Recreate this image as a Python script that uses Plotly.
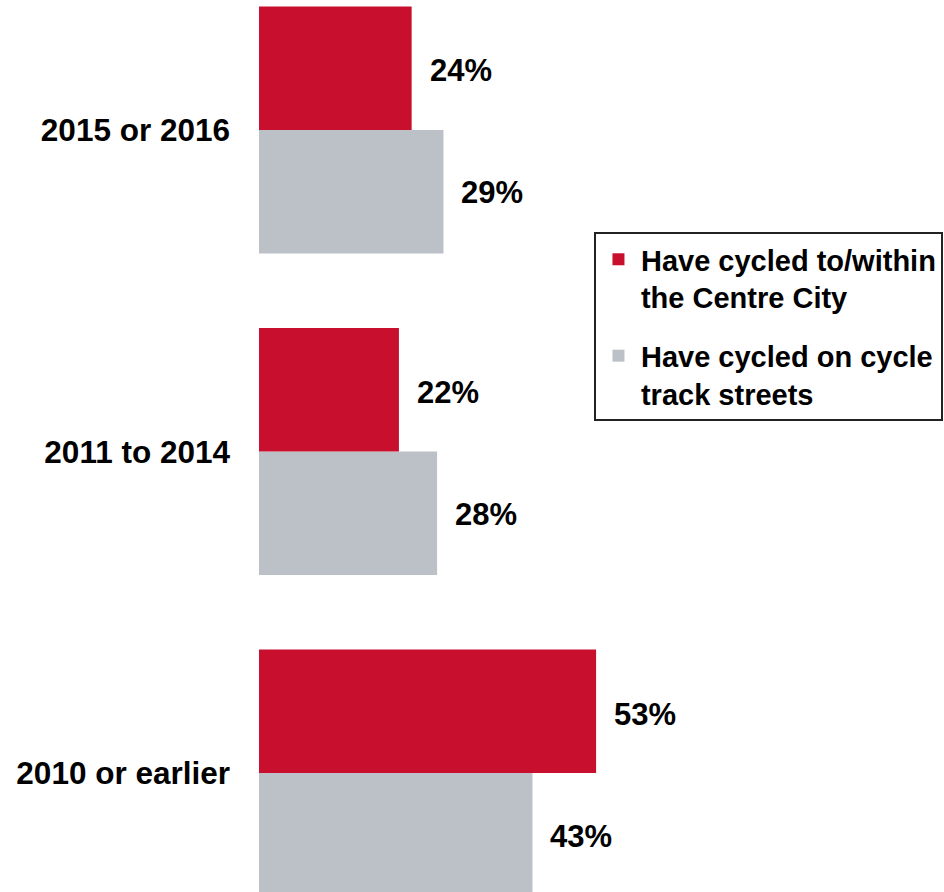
import plotly.graph_objects as go

# Survey responses by when the respondent started cycling
periods = ["2010 or earlier", "2011 to 2014", "2015 or 2016"]
centre_city = [53, 22, 24]      # % who have cycled to/within the Centre City
cycle_track = [43, 28, 29]      # % who have cycled on cycle track streets

series_names = [
    "Have cycled to/within<br>the Centre City",
    "Have cycled on cycle<br>track streets",
]
red = "#C8102E"
grey = "#BBC1C7"
font_family = "Liberation Sans, Arial, sans-serif"

fig = go.Figure()
# grey first so the red bar sits on top within each group
fig.add_trace(go.Bar(
    y=periods, x=cycle_track, orientation="h", name=series_names[1],
    marker=dict(color=grey, line=dict(width=0)), legendrank=2, legendgroup="b",
))
fig.add_trace(go.Bar(
    y=periods, x=centre_city, orientation="h", name=series_names[0],
    marker=dict(color=red, line=dict(width=0)), legendrank=1, legendgroup="a",
))

# value labels next to each bar end
label_font = dict(size=31, family=font_family, color="black", weight="bold")
annotations = []
for p, v in zip(periods, centre_city):
    annotations.append(dict(x=v, y=p, text=f"{v}%", showarrow=False,
                            xanchor="left", xshift=16, yshift=59, font=label_font))
for p, v in zip(periods, cycle_track):
    annotations.append(dict(x=v, y=p, text=f"{v}%", showarrow=False,
                            xanchor="left", xshift=16, yshift=-63, font=label_font))

fig.update_layout(
    width=944, height=892,
    margin=dict(l=259, r=0, t=0, b=0),
    paper_bgcolor="white", plot_bgcolor="white",
    barmode="group", bargap=0.232, bargroupgap=0,
    annotations=annotations,
    showlegend=True,
    legend=dict(
        x=0.489, y=0.740, xanchor="left", yanchor="top",
        bordercolor="#222222", borderwidth=2, bgcolor="white",
        font=dict(size=29, family=font_family, color="black", weight="bold"),
        valign="top", tracegroupgap=18, traceorder="grouped",
        itemwidth=35, entrywidth=330, entrywidthmode="pixels",
    ),
    xaxis=dict(range=[0, 107.7], visible=False, fixedrange=True),
    yaxis=dict(
        type="category", categoryorder="array", categoryarray=periods,
        range=[-0.370, 2.404], showgrid=False, zeroline=False, showline=False,
        ticks="", ticklabelstandoff=28,
        tickfont=dict(size=31.5, family=font_family, color="black", weight="bold"),
    ),
)

fig.write_html("out.html")
